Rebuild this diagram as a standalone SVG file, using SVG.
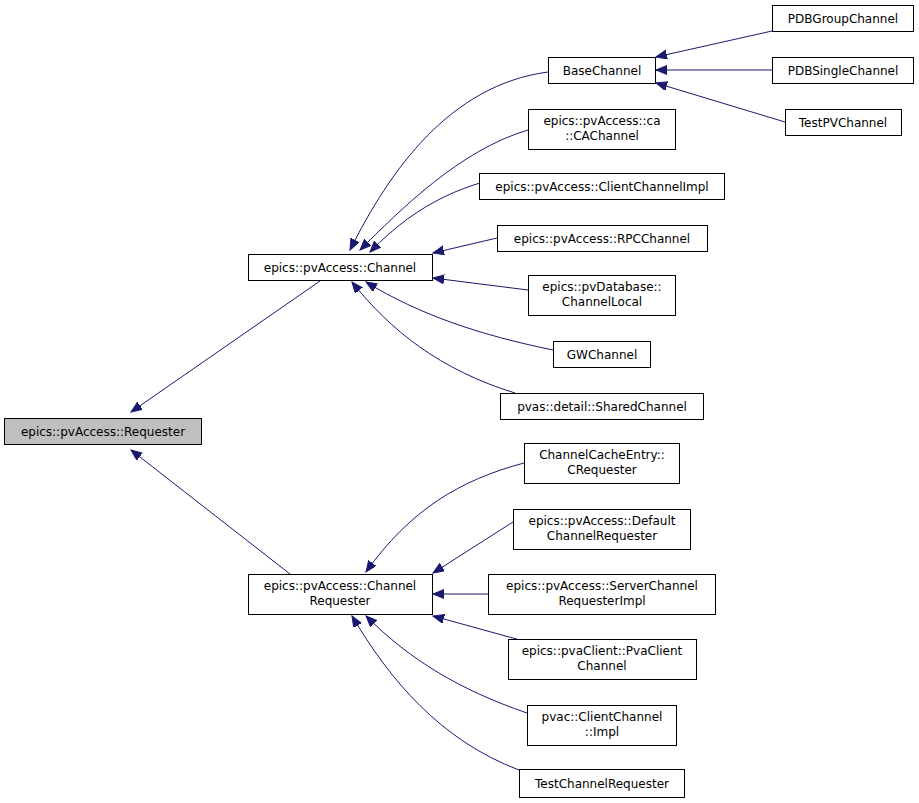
<svg xmlns="http://www.w3.org/2000/svg" width="919" height="803" viewBox="0 0 919 803">
<style>
.n rect{fill:#fff;stroke:#000;stroke-width:1}
.n text{font-family:"DejaVu Sans",sans-serif;font-size:12px;text-anchor:middle;fill:#000}
#e path{fill:none;stroke:#191970;stroke-width:1}
</style>
<defs><marker id="a" markerWidth="12" markerHeight="10" refX="11" refY="4.5" orient="auto" markerUnits="userSpaceOnUse"><polygon points="0,0 11,4.5 0,9" fill="#191970" stroke="#191970"/></marker></defs>
<rect width="919" height="803" fill="#fff"/>
<g id="e">
<path d="M320,281 L131,412" marker-end="url(#a)"/>
<path d="M290,574 L131,450" marker-end="url(#a)"/>
<path d="M548,72 C450,85 390,170 350,250" marker-end="url(#a)"/>
<path d="M528,130 C460,150 400,210 360,250" marker-end="url(#a)"/>
<path d="M520,174 C470,182 420,200 370,252" marker-end="url(#a)"/>
<path d="M497,238 L433,253" marker-end="url(#a)"/>
<path d="M528,290 L433,278" marker-end="url(#a)"/>
<path d="M553,350 C480,335 420,315 366,282" marker-end="url(#a)"/>
<path d="M515,393 C440,370 390,330 352,282" marker-end="url(#a)"/>
<path d="M772,31 L656,57" marker-end="url(#a)"/>
<path d="M772,70 L656,70" marker-end="url(#a)"/>
<path d="M785,122 L656,83" marker-end="url(#a)"/>
<path d="M524,463 C460,480 410,510 366,572" marker-end="url(#a)"/>
<path d="M513,522 L433,573" marker-end="url(#a)"/>
<path d="M488,594 L433,594" marker-end="url(#a)"/>
<path d="M520,640 L433,616" marker-end="url(#a)"/>
<path d="M527,713 C460,690 410,660 366,616" marker-end="url(#a)"/>
<path d="M519,770 C440,740 390,680 352,616" marker-end="url(#a)"/>
</g>
<g id="requester" class="n"><rect x="4.5" y="418.5" width="197" height="26" style="fill:#bfbfbf"/><text x="103" y="436">epics::pvAccess::Requester</text></g>
<g id="channel" class="n"><rect x="248.5" y="254.5" width="184" height="26"/><text x="340" y="272">epics::pvAccess::Channel</text></g>
<g id="chreq" class="n"><rect x="248.5" y="574.5" width="184" height="40"/><text x="340" y="590">epics::pvAccess::Channel</text><text x="340" y="605">Requester</text></g>
<g id="base" class="n"><rect x="548.5" y="57.5" width="107" height="26"/><text x="602" y="75">BaseChannel</text></g>
<g id="pdbg" class="n"><rect x="772.5" y="5.5" width="141" height="26"/><text x="843" y="23">PDBGroupChannel</text></g>
<g id="pdbs" class="n"><rect x="772.5" y="57.5" width="141" height="26"/><text x="843" y="75">PDBSingleChannel</text></g>
<g id="testpv" class="n"><rect x="785.5" y="109.5" width="116" height="26"/><text x="843" y="127">TestPVChannel</text></g>
<g id="ca" class="n"><rect x="528.5" y="109.5" width="147" height="40"/><text x="602" y="125">epics::pvAccess::ca</text><text x="602" y="140">::CAChannel</text></g>
<g id="cci" class="n"><rect x="479.5" y="173.5" width="245" height="26"/><text x="602" y="191">epics::pvAccess::ClientChannelImpl</text></g>
<g id="rpc" class="n"><rect x="497.5" y="225.5" width="210" height="26"/><text x="602" y="243">epics::pvAccess::RPCChannel</text></g>
<g id="local" class="n"><rect x="528.5" y="275.5" width="147" height="40"/><text x="602" y="291">epics::pvDatabase::</text><text x="602" y="306">ChannelLocal</text></g>
<g id="gw" class="n"><rect x="553.5" y="341.5" width="97" height="26"/><text x="602" y="359">GWChannel</text></g>
<g id="shared" class="n"><rect x="500.5" y="393.5" width="203" height="26"/><text x="602" y="411">pvas::detail::SharedChannel</text></g>
<g id="creq" class="n"><rect x="524.5" y="443.5" width="155" height="40"/><text x="602" y="459">ChannelCacheEntry::</text><text x="602" y="474">CRequester</text></g>
<g id="defreq" class="n"><rect x="513.5" y="509.5" width="177" height="40"/><text x="602" y="525">epics::pvAccess::Default</text><text x="602" y="540">ChannelRequester</text></g>
<g id="srvreq" class="n"><rect x="488.5" y="574.5" width="227" height="40"/><text x="602" y="590">epics::pvAccess::ServerChannel</text><text x="602" y="605">RequesterImpl</text></g>
<g id="pvacc" class="n"><rect x="508.5" y="639.5" width="188" height="40"/><text x="602" y="655">epics::pvaClient::PvaClient</text><text x="602" y="670">Channel</text></g>
<g id="pvacimpl" class="n"><rect x="527.5" y="705.5" width="149" height="40"/><text x="602" y="721">pvac::ClientChannel</text><text x="602" y="736">::Impl</text></g>
<g id="testcr" class="n"><rect x="519.5" y="769.5" width="165" height="28"/><text x="602" y="788">TestChannelRequester</text></g>
</svg>
